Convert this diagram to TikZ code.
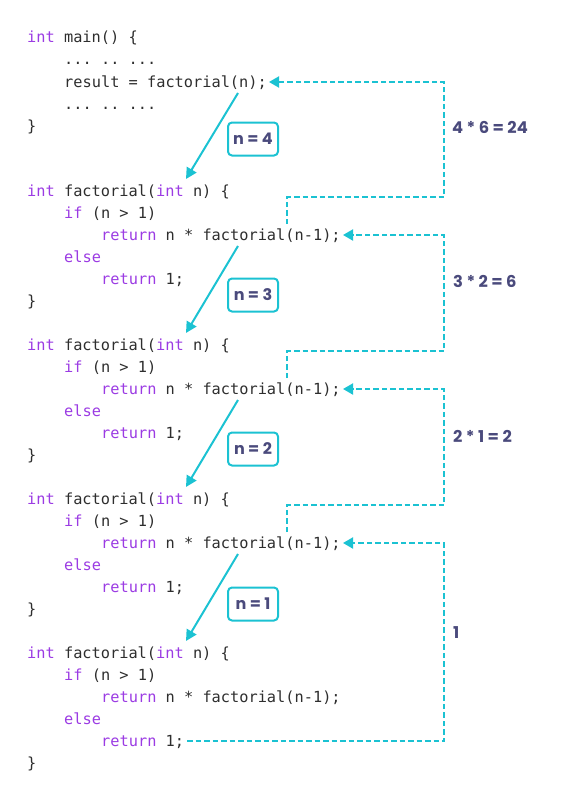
\documentclass[tikz,border=0pt]{standalone}
\usepackage{fontspec}
\setmonofont{DejaVu Sans Mono}
\newfontfamily\lblfont{Poppins}
\usetikzlibrary{arrows.meta}
\definecolor{kwc}{HTML}{9B3BE3}
\definecolor{codetext}{HTML}{2E2E2E}
\definecolor{cy}{HTML}{1BC2D2}
\definecolor{lbl}{HTML}{4A4A7C}
\newcommand{\kwd}[1]{\textcolor{kwc}{#1}}
\begin{document}
\begin{tikzpicture}[x=1pt,y=-1pt,
 codeline/.style={anchor=base west, inner sep=0pt, font=\fontsize{15.3}{18}\ttfamily, text=codetext},
 nbox/.style={draw=cy, line width=2pt, rounded corners=4pt, minimum width=50pt, minimum height=33pt, inner sep=0pt, font=\lblfont\bfseries\fontsize{16}{18}\selectfont, text=lbl},
 prodlabel/.style={anchor=west, inner sep=0pt, font=\lblfont\bfseries\fontsize{16.3}{18}\selectfont, text=lbl},
 callarrow/.style={draw=cy, line width=2pt, -{Triangle[length=11pt,width=11pt]}},
 retarrow/.style={draw=cy, line width=1.9pt, dash pattern=on 5.5pt off 3pt, -{Triangle[length=10pt,width=11pt]}}]
\useasboundingbox (0,0) rectangle (570,800);

% main
\node[codeline] (m1) at (27,43) {\kwd{int} main() \{};
\node[codeline] (m2) at (64,65) {... .. ...};
\node[codeline] (m3) at (64,87) {result = factorial(n);};
\node[codeline] (m4) at (64,109) {... .. ...};
\node[codeline] (m5) at (27,131) {\}};
\coordinate (call0) at (238,93);
\coordinate (tip0) at (269,82);

% factorial blocks
\foreach \k in {1,...,4} {
  \pgfmathsetmacro\B{191+154*(\k-1)}
  \node[codeline] (b\k l1) at (27,\B+5) {\kwd{int} factorial(\kwd{int} n) \{};
  \node[codeline] (b\k l2) at (64,\B+27) {\kwd{if} (n > 1)};
  \node[codeline] (b\k l3) at (101,\B+49) {\kwd{return} n * factorial(n-1);};
  \node[codeline] (b\k l4) at (64,\B+71) {\kwd{else}};
  \node[codeline] (b\k l5) at (101,\B+93) {\kwd{return} 1;};
  \node[codeline] (b\k l6) at (27,\B+115) {\}};
  \coordinate (in\k) at (186,\B-12);
  \coordinate (call\k) at (238,\B+55);
  \coordinate (tip\k) at (343,\B+44);
  \coordinate (up\k) at (287,\B+33);
  \coordinate (top\k) at (287,\B+6);
  \coordinate (rt\k) at (444,\B+6);
}

% call arrows
\draw[callarrow] (call0) -- (in1);
\draw[callarrow] (call1) -- (in2);
\draw[callarrow] (call2) -- (in3);
\draw[callarrow] (call3) -- (in4);

% n boxes
\node[nbox] (n4) at (253,139) {n = 4};
\node[nbox] (n3) at (253,295) {n = 3};
\node[nbox] (n2) at (253,449) {n = 2};
\node[nbox] (n1) at (253,604) {n = 1};

% return arrows
\draw[retarrow] (up1) -- (top1) -- (rt1) -- (rt1 |- tip0) -- (tip0);
\draw[retarrow] (up2) -- (top2) -- (rt2) -- (rt2 |- tip1) -- (tip1);
\draw[retarrow] (up3) -- (top3) -- (rt3) -- (rt3 |- tip2) -- (tip2);
\coordinate (ret4) at (187,741);
\coordinate (ret4r) at (444,741);
\draw[retarrow] (ret4) -- (ret4r) -- (ret4r |- tip3) -- (tip3);

% product labels
\node[prodlabel] (p1) at (452,127) {4 * 6 = 24};
\node[prodlabel] (p2) at (453,281) {3 * 2 = 6};
\node[prodlabel] (p3) at (453,436) {2 * 1 = 2};
\node[prodlabel] (p4) at (453,633) {1};
\end{tikzpicture}
\end{document}
